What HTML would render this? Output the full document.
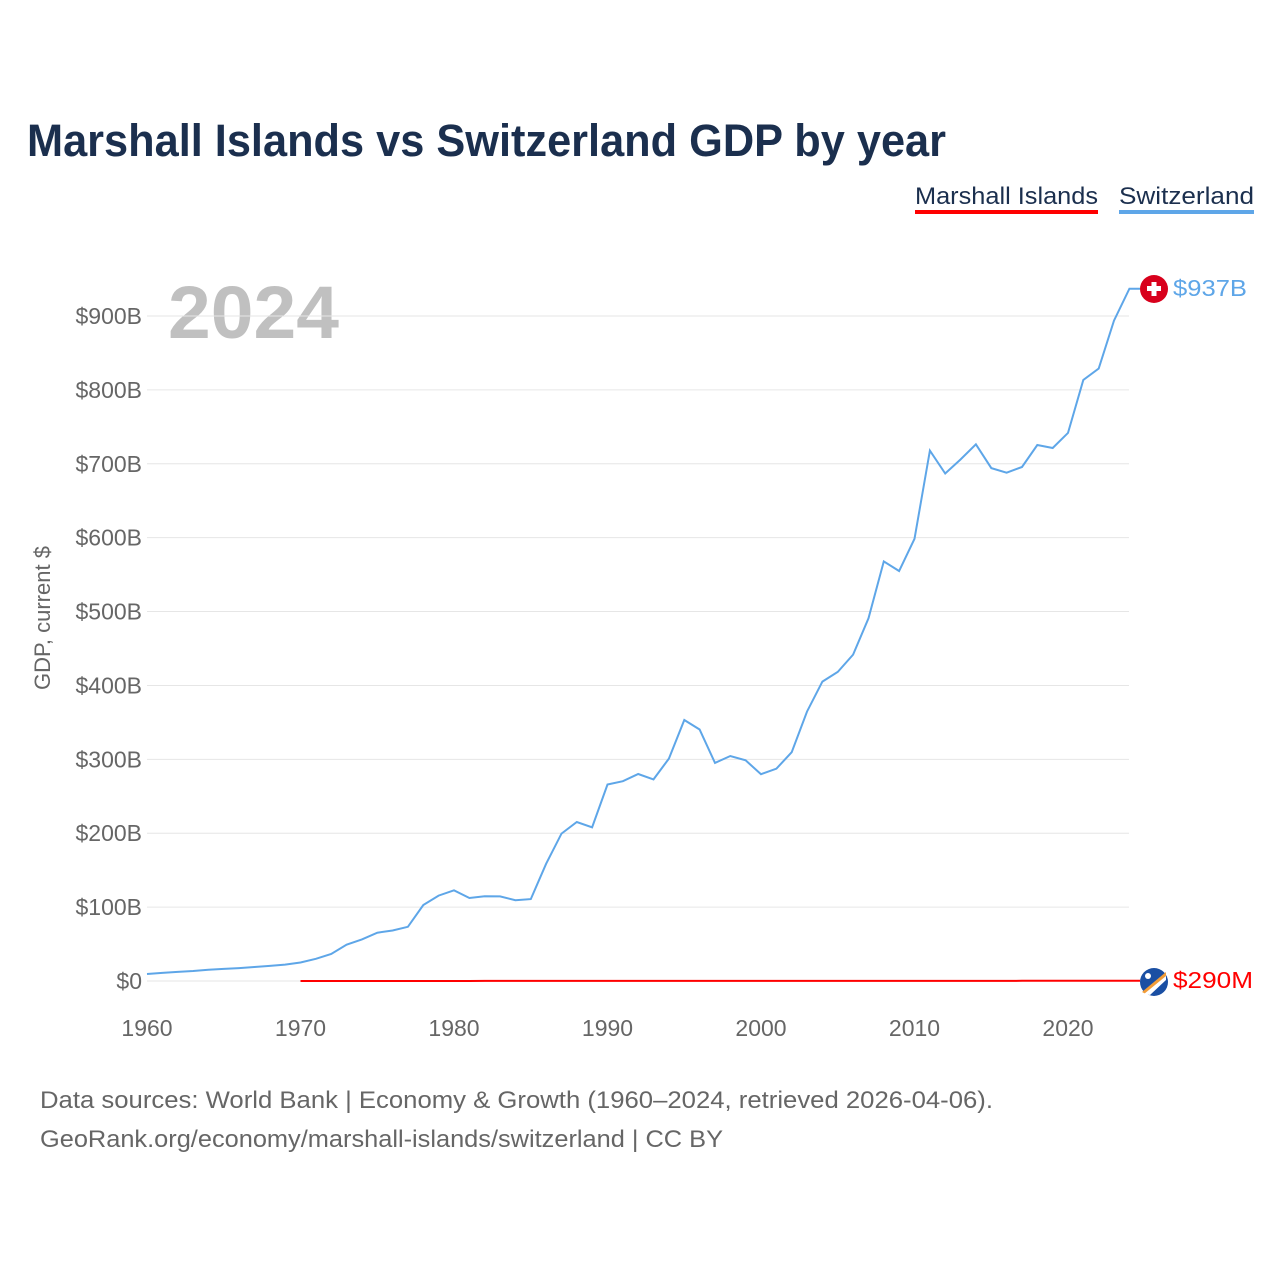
<!DOCTYPE html>
<html><head><meta charset="utf-8"><style>
body{margin:0;background:#fff;font-family:"Liberation Sans",sans-serif}
#c{position:relative;width:1280px;height:1280px}
</style></head><body>
<div id="c">
<svg id="s" width="1280" height="1280">
<text x="27" y="156" font-size="45" font-weight="bold" fill="#1b2f4e" textLength="919" lengthAdjust="spacingAndGlyphs">Marshall Islands vs Switzerland GDP by year</text>
<g><text x="915" y="204" font-size="24" fill="#1b2f4e" textLength="183" lengthAdjust="spacingAndGlyphs">Marshall Islands</text><rect x="915" y="210" width="183" height="4" fill="#f00"/></g>
<g><text x="1119" y="204" font-size="24" fill="#1b2f4e" textLength="135" lengthAdjust="spacingAndGlyphs">Switzerland</text><rect x="1119" y="210" width="135" height="4" fill="#5ea6e8"/></g>
<text x="168" y="338" font-size="74" font-weight="bold" fill="#c0c0c0" textLength="171" lengthAdjust="spacingAndGlyphs">2024</text>
<text transform="translate(50,618) rotate(-90)" text-anchor="middle" font-size="22" fill="#666">GDP, current $</text>
<g id="grid"></g><g id="yt"></g><g id="xt"></g><g id="lines"></g>
<g><circle cx="1154" cy="289" r="14" fill="#d8001c"/><rect x="1147" y="286" width="14" height="5" fill="#fff"/><rect x="1151.5" y="282" width="5" height="14" fill="#fff"/></g>
<text x="1173" y="296" font-size="23" fill="#5ea6e8" textLength="74" lengthAdjust="spacingAndGlyphs">$937B</text>
<g><circle cx="1154" cy="982" r="14" fill="#1a4fa3"/><path d="M1142 992 L1166 972 L1166 976 L1146 994Z" fill="#f29d38"/><path d="M1144 994 L1166 976 L1166 980 L1150 995Z" fill="#fff"/><circle cx="1148" cy="976" r="3" fill="#fff"/></g>
<text x="1173" y="988" font-size="23" fill="#f00" textLength="80" lengthAdjust="spacingAndGlyphs">$290M</text>
<text x="40" y="1108" font-size="24" fill="#666" textLength="953" lengthAdjust="spacingAndGlyphs">Data sources: World Bank | Economy &amp; Growth (1960–2024, retrieved 2026-04-06).</text>
<text x="40" y="1147" font-size="24" fill="#666" textLength="683" lengthAdjust="spacingAndGlyphs">GeoRank.org/economy/marshall-islands/switzerland | CC BY</text>
</svg></div>
<script>
const years=[];for(let y=1960;y<=2024;y++)years.push(y);
const swiss=[9.5,11,12.3,13.6,15.3,16.4,17.5,18.9,20.4,22.2,25.1,30.0,36.6,49.1,56.3,65.4,68.4,73.4,102.8,115.6,122.8,112.3,114.8,114.5,109.3,110.8,158.6,199.5,215.2,208.0,265.9,270.4,280.1,272.8,301.0,353.2,340.4,295.2,304.5,298.7,279.9,287.3,309.6,364.6,405.2,418.3,441.7,490.9,567.9,554.9,598.5,717.8,686.8,705.8,726.4,694.1,687.9,695.6,725.4,721.4,741.8,813.4,828.9,893.8,937];
const mhYears=[];for(let y=1970;y<=2024;y++)mhYears.push(y);
const marshall=[0.03,0.03,0.03,0.04,0.04,0.04,0.05,0.05,0.05,0.06,0.06,0.06,0.07,0.07,0.07,0.08,0.08,0.08,0.09,0.09,0.1,0.11,0.12,0.13,0.13,0.14,0.14,0.12,0.11,0.11,0.11,0.11,0.12,0.12,0.13,0.13,0.14,0.15,0.16,0.16,0.17,0.19,0.2,0.2,0.2,0.19,0.2,0.21,0.22,0.22,0.24,0.25,0.26,0.28,0.29];
const yTicks=[0,100,200,300,400,500,600,700,800,900];
const yLabels=["$0","$100B","$200B","$300B","$400B","$500B","$600B","$700B","$800B","$900B"];
const xTicks=[1960,1970,1980,1990,2000,2010,2020];
const X=y=>147+(y-1960)*(1068-147)/60;
const Y=v=>981-v*(981-316)/900;
const NS="http://www.w3.org/2000/svg";
function mk(t,a,p){const e=document.createElementNS(NS,t);for(const k in a)e.setAttribute(k,a[k]);document.getElementById(p).appendChild(e);return e;}
yTicks.forEach((v,i)=>{
 const l=mk('line',{x1:147,x2:1129,y1:Y(v),y2:Y(v),stroke:'#e6e6e6','stroke-width':1},'grid');
 
 
 const t=mk('text',{x:142,y:Y(v)+8,'text-anchor':'end','font-size':23,fill:'#666'},'yt');t.textContent=yLabels[i];
 
 
});
xTicks.forEach(y=>{
 const t=mk('text',{x:X(y),y:1036,'text-anchor':'middle','font-size':23,fill:'#666'},'xt');t.textContent=y;
 
 
});
let d=swiss.map((v,i)=>(i?'L':'M')+X(years[i]).toFixed(1)+' '+Y(v).toFixed(1)).join(' ');
d+=' L1140 '+Y(swiss[swiss.length-1]).toFixed(1);
const p1=mk('path',{d:d,fill:'none',stroke:'#5ea6e8','stroke-width':2},'lines');


let d2=marshall.map((v,i)=>(i?'L':'M')+X(mhYears[i]).toFixed(1)+' '+Y(v).toFixed(1)).join(' ');
d2+=' L1140 '+Y(marshall[marshall.length-1]).toFixed(1);
const p2=mk('path',{d:d2,fill:'none',stroke:'#f00','stroke-width':2},'lines');


</script>
</body></html>
